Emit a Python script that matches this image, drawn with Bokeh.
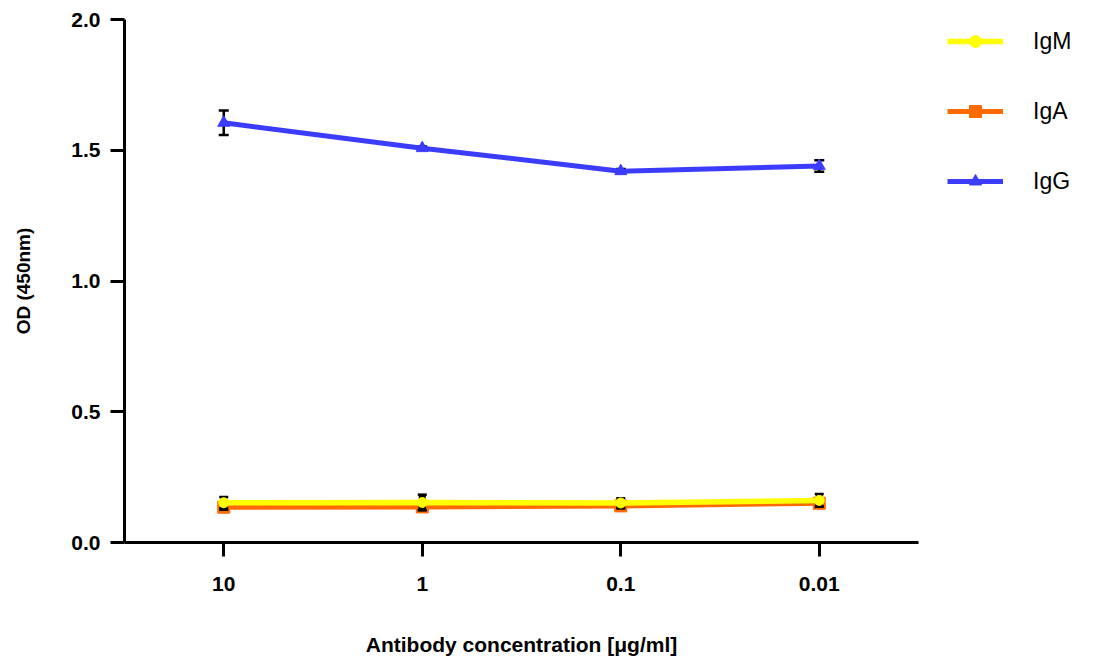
from bokeh.plotting import figure
from bokeh.models import (ColumnDataSource, Legend, LegendItem, FactorRange, Range1d,
                          SingleIntervalTicker, NumeralTickFormatter)
from bokeh.embed import file_html
from bokeh.resources import INLINE

concentrations = ["10", "1", "0.1", "0.01"]
igm = [0.152, 0.153, 0.151, 0.161]
igm_err = [0.022, 0.030, 0.018, 0.024]
iga = [0.135, 0.136, 0.140, 0.150]
iga_err = [0.010, 0.012, 0.010, 0.012]
igg = [1.605, 1.508, 1.420, 1.440]
igg_err = [0.047, 0.006, 0.008, 0.022]

FONT = "Liberation Sans"

p = figure(x_range=FactorRange(factors=concentrations), y_range=Range1d(0, 2.0),
           frame_width=794, frame_height=523, output_backend="svg", toolbar_location=None,
           min_border_left=124, min_border_right=176, min_border_top=19, min_border_bottom=120)
p.outline_line_color = None
p.xgrid.grid_line_color = None
p.ygrid.grid_line_color = None
p.background_fill_color = "white"
p.border_fill_color = "white"

def err_glyphs(vals, errs, lw=2.5, cap=10):
    src = ColumnDataSource(dict(x=concentrations,
                                lo=[v - e for v, e in zip(vals, errs)],
                                hi=[v + e for v, e in zip(vals, errs)]))
    p.segment(x0="x", y0="lo", x1="x", y1="hi", source=src, line_color="black", line_width=lw)
    p.scatter(x="x", y="lo", source=src, marker="dash", size=cap, line_color="black", line_width=2.5)
    p.scatter(x="x", y="hi", source=src, marker="dash", size=cap, line_color="black", line_width=2.5)

blue = "#3C3CFF"
orange = "#FF6A00"
yellow = "#FFFF00"

# IgG
err_glyphs(igg, igg_err)
src_g = ColumnDataSource(dict(x=concentrations, y=igg))
lg = p.line(x="x", y="y", source=src_g, line_color=blue, line_width=5)
sg = p.scatter(x="x", y="y", source=src_g, marker="triangle", size=12, fill_color=blue, line_color=blue)

# IgA
src_a = ColumnDataSource(dict(x=concentrations, y=iga))
la = p.line(x="x", y="y", source=src_a, line_color=orange, line_width=5)
sa = p.scatter(x="x", y="y", source=src_a, marker="square", size=12, fill_color=orange, line_color=orange)

err_glyphs(iga, iga_err, lw=7, cap=9)
err_glyphs(igm, igm_err, lw=7, cap=9)

# IgM
src_m = ColumnDataSource(dict(x=concentrations, y=igm))
lm = p.line(x="x", y="y", source=src_m, line_color=yellow, line_width=5.5)
sm = p.scatter(x="x", y="y", source=src_m, marker="circle", size=10, fill_color=yellow, line_color=yellow)

# axes
for ax in (p.xaxis[0], p.yaxis[0]):
    ax.axis_line_width = 3
    ax.major_tick_line_width = 3
    ax.major_tick_out = 14
    ax.major_tick_in = 0
    ax.minor_tick_line_color = None
    ax.major_label_text_font = FONT
    ax.major_label_text_font_style = "bold"
    ax.major_label_text_font_size = "21px"
    ax.major_label_text_color = "black"
    ax.axis_label_text_font = FONT
    ax.axis_label_text_font_style = "bold"
    ax.axis_label_text_color = "black"

p.yaxis.ticker = SingleIntervalTicker(interval=0.5, num_minor_ticks=0)
p.yaxis.formatter = NumeralTickFormatter(format="0.0")
p.yaxis.axis_label = "OD (450nm)"
p.yaxis.axis_label_text_font_size = "19px"
p.yaxis.major_label_standoff = 10
p.yaxis.axis_label_standoff = 34

p.xaxis.axis_label = "Antibody concentration [\u03bcg/ml]"
p.xaxis.axis_label_text_font_size = "21px"
p.xaxis.major_label_standoff = 20
p.xaxis.axis_label_standoff = 39

legend = Legend(items=[
    LegendItem(label="IgM", renderers=[lm, sm]),
    LegendItem(label="IgA", renderers=[la, sa]),
    LegendItem(label="IgG", renderers=[lg, sg]),
], location=(29, 346))
legend.glyph_width = 56
legend.glyph_height = 30
legend.label_height = 30
legend.label_width = 50
legend.spacing = 40
legend.padding = 0
legend.margin = 0
legend.label_standoff = 30
legend.border_line_color = None
legend.background_fill_alpha = 0
legend.label_text_font = FONT
legend.label_text_font_size = "23px"
legend.label_text_color = "black"
p.add_layout(legend, "right")

open("out.html", "w").write(file_html(p, INLINE))
